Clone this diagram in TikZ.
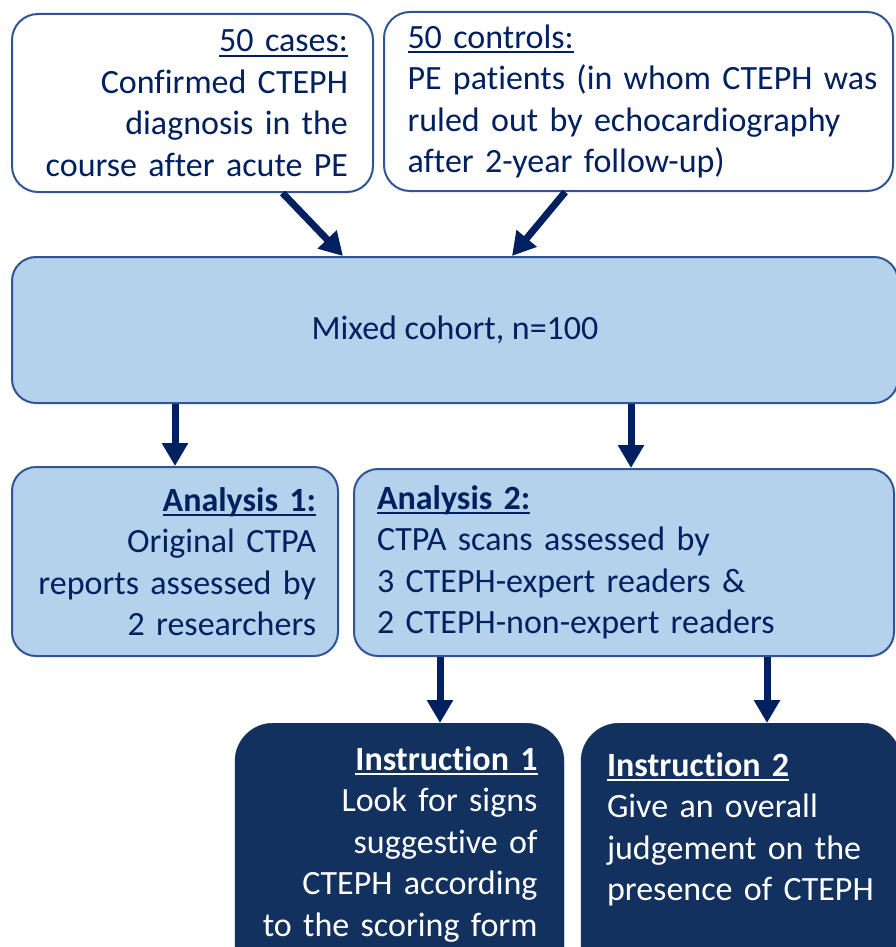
\documentclass[tikz,border=0pt]{standalone}
\usepackage{fontspec}
\setmainfont{Carlito}[Ligatures=NoCommon]
\usetikzlibrary{arrows.meta,calc,positioning}
\definecolor{navy}{HTML}{002060}
\definecolor{boxline}{HTML}{2F5597}
\definecolor{lightblue}{HTML}{B4D2EB}
\definecolor{darkblue}{HTML}{13315F}
\newcommand{\undr}[1]{\leavevmode\setbox0\hbox{#1}\rlap{\rule[-5pt]{\wd0}{2pt}}\box0}

\begin{document}
\begin{tikzpicture}[x=1pt,y=-1pt,
    txt/.style={font=\fontsize{34}{41.5}\selectfont},
    whitebox/.style={draw=boxline,line width=2pt,fill=white,rounded corners=26pt,text=navy,txt,inner sep=0pt},
    lightbox/.style={whitebox,fill=lightblue,rounded corners=24pt},
    darkbox/.style={draw=darkblue,fill=darkblue,rounded corners=38pt,text=white,txt,inner xsep=0pt,text depth=200pt},
    arr/.style={draw=navy,line width=7pt,-{Triangle[width=25pt,length=23pt]}}]
  \useasboundingbox (0,0) rectangle (896,947);
  % the two groups
  \node[whitebox,minimum width=361pt,minimum height=178pt,text width=311pt,align=right] (cases) at (192.5,103)
    {\undr{50 cases:}\\Confirmed CTEPH\\diagnosis in the\\course after acute PE};
  \node[whitebox,minimum width=509pt,minimum height=179pt,text width=462pt,align=left] (controls) at (638.5,101.5)
    {\undr{50 controls:}\\\mbox{PE patients (in whom CTEPH was}\\ruled out by echocardiography\\after 2-year follow-up)};
  % cohort
  \node[lightbox,minimum width=886pt,minimum height=146pt] (cohort) at (455,330) {Mixed cohort, n=100};
  % analyses
  \node[lightbox,minimum width=326pt,minimum height=189pt,text width=282pt,align=right] (an1) at (175,561.5)
    {\undr{\bfseries Analysis 1:}\\Original CTPA\\reports assessed by\\2 researchers};
  \node[lightbox,minimum width=540pt,minimum height=187pt,text width=494pt,align=left] (an2) at (624,562.5)
    {\undr{\bfseries Analysis 2:}\\CTPA scans assessed by\\3 CTEPH-expert readers \&\\2 CTEPH-non-expert readers};
  % instructions
  \node[darkbox,anchor=north,minimum width=329pt,text width=276pt,align=right,inner ysep=23pt] (inst1) at (399.5,723)
    {\undr{\bfseries Instruction 1}\\Look for signs\\suggestive of\\CTEPH according\\to the scoring form};
  \node[darkbox,anchor=north,minimum width=320pt,text width=268pt,align=left,inner ysep=29pt] (inst2) at (741,723)
    {\undr{\bfseries Instruction 2}\\Give an overall\\judgement on the\\presence of CTEPH};
  % arrows
  \draw[arr] (cases.-45) -- (cohort.north -| 343,0);
  \draw[arr] (controls.-129) -- (cohort.north -| 512,0);
  \draw[arr] (cohort.south -| an1.north) -- (an1.north);
  \draw[arr] (cohort.south -| 631,0) -- (an2.north -| 631,0);
  \draw[arr] (an2.south -| 440,0) -- (inst1.north -| 440,0);
  \draw[arr] (an2.south -| 767,0) -- (inst2.north -| 767,0);
\end{tikzpicture}
\end{document}
